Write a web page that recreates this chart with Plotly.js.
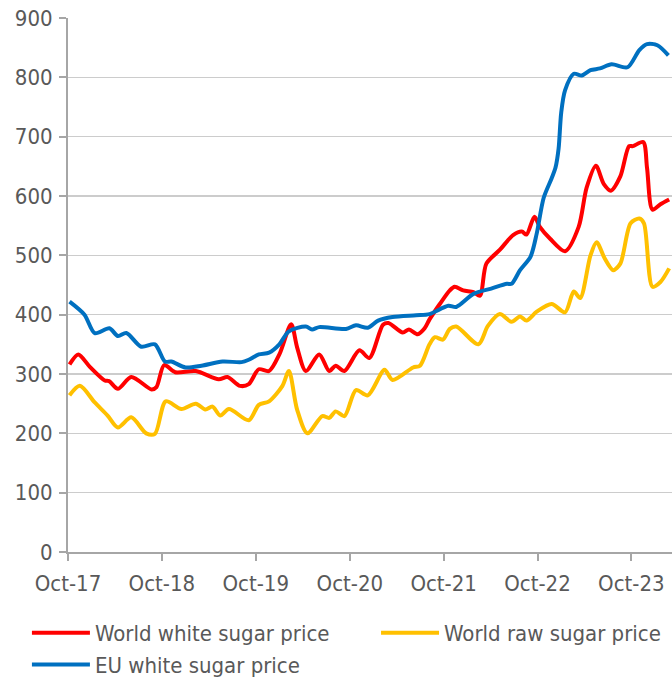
<!DOCTYPE html>
<html>
<head>
<meta charset="utf-8">
<script src="https://cdn.plot.ly/plotly-3.0.1.min.js"></script>
<style>html,body{margin:0;padding:0;background:#fff;}#chart{width:672px;height:680px;}</style>
</head>
<body>
<div id="chart"></div>
<script>
const seriesNames = ["World white sugar price", "World raw sugar price", "EU white sugar price"];

const whiteDates = ["2017-10-07","2017-11-10","2017-12-25","2018-02-21","2018-03-10","2018-04-13","2018-06-04","2018-08-22","2018-09-10","2018-10-10","2018-11-22","2019-02-10","2019-05-10","2019-06-13","2019-08-01","2019-09-04","2019-10-13","2019-11-22","2020-01-01","2020-02-16","2020-03-10","2020-04-13","2020-06-04","2020-07-13","2020-08-07","2020-09-10","2020-11-07","2020-12-16","2021-02-07","2021-02-28","2021-04-25","2021-05-19","2021-06-22","2021-07-19","2021-08-07","2021-09-16","2021-10-25","2021-11-13","2021-12-16","2022-01-25","2022-02-19","2022-03-16","2022-05-07","2022-06-28","2022-08-01","2022-08-19","2022-09-19","2022-10-10","2022-11-19","2023-01-16","2023-03-10","2023-04-10","2023-05-16","2023-06-16","2023-07-13","2023-08-19","2023-09-22","2023-10-07","2023-11-16","2023-12-01","2023-12-22","2024-01-22","2024-02-25"];
const whiteValues = [316,333,312,289,288,275,295,274,278,315,303,305,291,295,280,283,308,305,333,384,345,305,333,305,314,305,340,327,383,386,370,375,367,377,392,418,441,447,441,438,432,486,509,534,540,535,565,548,528,507,548,614,651,620,609,633,684,684,691,647,577,586,594];

const rawDates = ["2017-10-07","2017-11-16","2018-01-13","2018-03-04","2018-04-13","2018-06-04","2018-08-01","2018-09-04","2018-10-16","2018-12-16","2019-02-10","2019-03-19","2019-04-16","2019-05-16","2019-06-19","2019-09-04","2019-10-13","2019-11-22","2020-01-13","2020-02-07","2020-03-10","2020-04-19","2020-06-16","2020-07-13","2020-08-07","2020-09-10","2020-10-25","2020-12-10","2021-02-13","2021-03-16","2021-06-04","2021-07-01","2021-08-07","2021-08-28","2021-09-28","2021-10-25","2021-11-19","2022-02-13","2022-03-22","2022-05-07","2022-06-22","2022-07-25","2022-08-19","2022-09-28","2022-11-25","2023-01-16","2023-02-19","2023-03-16","2023-04-25","2023-05-19","2023-06-19","2023-07-22","2023-08-19","2023-09-28","2023-11-01","2023-11-19","2023-12-22","2024-01-22","2024-02-25"];
const rawValues = [264,280,252,230,210,227,200,199,254,241,250,240,245,230,241,222,248,254,280,305,240,200,229,226,237,229,273,264,307,290,311,314,350,362,358,376,380,350,381,401,388,397,390,405,418,404,439,428,500,522,495,475,486,554,562,554,447,455,478];

const euDates = ["2017-10-07","2017-12-04","2018-01-13","2018-03-11","2018-04-13","2018-05-16","2018-07-13","2018-09-04","2018-10-13","2018-11-07","2019-01-01","2019-03-04","2019-05-25","2019-08-07","2019-09-04","2019-10-13","2019-11-22","2020-01-01","2020-02-07","2020-04-13","2020-05-07","2020-06-04","2020-09-16","2020-10-25","2020-12-10","2021-01-19","2021-03-16","2021-06-16","2021-08-07","2021-10-19","2021-11-19","2022-01-25","2022-04-04","2022-06-04","2022-06-22","2022-07-25","2022-09-04","2022-09-28","2022-10-25","2022-11-25","2022-12-10","2022-12-22","2023-01-01","2023-01-16","2023-02-19","2023-03-22","2023-04-25","2023-06-01","2023-07-16","2023-09-16","2023-11-01","2023-12-01","2024-01-10","2024-02-22"];
const euValues = [422,400,369,377,364,369,346,350,321,321,311,314,321,320,324,333,336,350,372,380,375,379,376,382,378,390,396,399,401,415,413,435,444,452,452,475,498,537,597,630,648,680,740,778,806,803,812,815,822,817,846,856,854,837];

const yTicks = [0,100,200,300,400,500,600,700,800,900];

const colors = ["#ff0000", "#ffc000", "#0070c0"];
const legendIds = ["legend", "legend2", "legend"];
const groups = ["g1", "g2", "g3"];
const mk = (x, y, i) => ({
  x: x, y: y, name: seriesNames[i], type: "scatter", mode: "lines",
  legend: legendIds[i], legendgroup: groups[i],
  line: {color: colors[i], width: 4, shape: "spline", smoothing: 0.8},
  hoverinfo: "skip"
});

const FONT = "'DejaVu Sans Condensed', 'DejaVu Sans', sans-serif";
const TXT = "#595959";

const data = [mk(whiteDates, whiteValues, 0), mk(rawDates, rawValues, 1), mk(euDates, euValues, 2)];

const legendBase = {
  orientation: "v", xanchor: "left", yref: "container", y: 0.1, yanchor: "top",
  font: {family: FONT, size: 22, color: TXT},
  itemwidth: 58, tracegroupgap: 0, bgcolor: "rgba(0,0,0,0)"
};

const layout = {
  width: 672, height: 680,
  margin: {l: 68, r: 0, t: 18, b: 128},
  paper_bgcolor: "#fff", plot_bgcolor: "#fff",
  font: {family: FONT, size: 22, color: TXT},
  showlegend: true,
  legend: Object.assign({}, legendBase, {x: -0.068}),
  legend2: Object.assign({}, legendBase, {x: 0.51}),
  xaxis: {
    type: "date",
    range: ["2017-10-01", "2024-03-07"],
    tick0: "2017-10-01", dtick: "M12", tickformat: "%b-%y",
    showgrid: false, zeroline: false,
    showline: true, linecolor: "#a6a6a6", linewidth: 2,
    ticks: "outside", ticklen: 7, tickcolor: "#a6a6a6", tickwidth: 2,
    ticklabelstandoff: 4,
    tickfont: {family: FONT, size: 22, color: TXT}
  },
  yaxis: {
    range: [0, 900], tickvals: yTicks,
    showgrid: true, gridcolor: "#cccccc", gridwidth: 1.5,
    zeroline: false, showline: true, linecolor: "#a6a6a6", linewidth: 2,
    ticks: "outside", ticklen: 7, tickcolor: "#a6a6a6", tickwidth: 2,
    ticklabelstandoff: 2,
    tickfont: {family: FONT, size: 22, color: TXT}
  }
};

Plotly.newPlot("chart", data, layout, {displayModeBar: false, staticPlot: true});
</script>
</body>
</html>
